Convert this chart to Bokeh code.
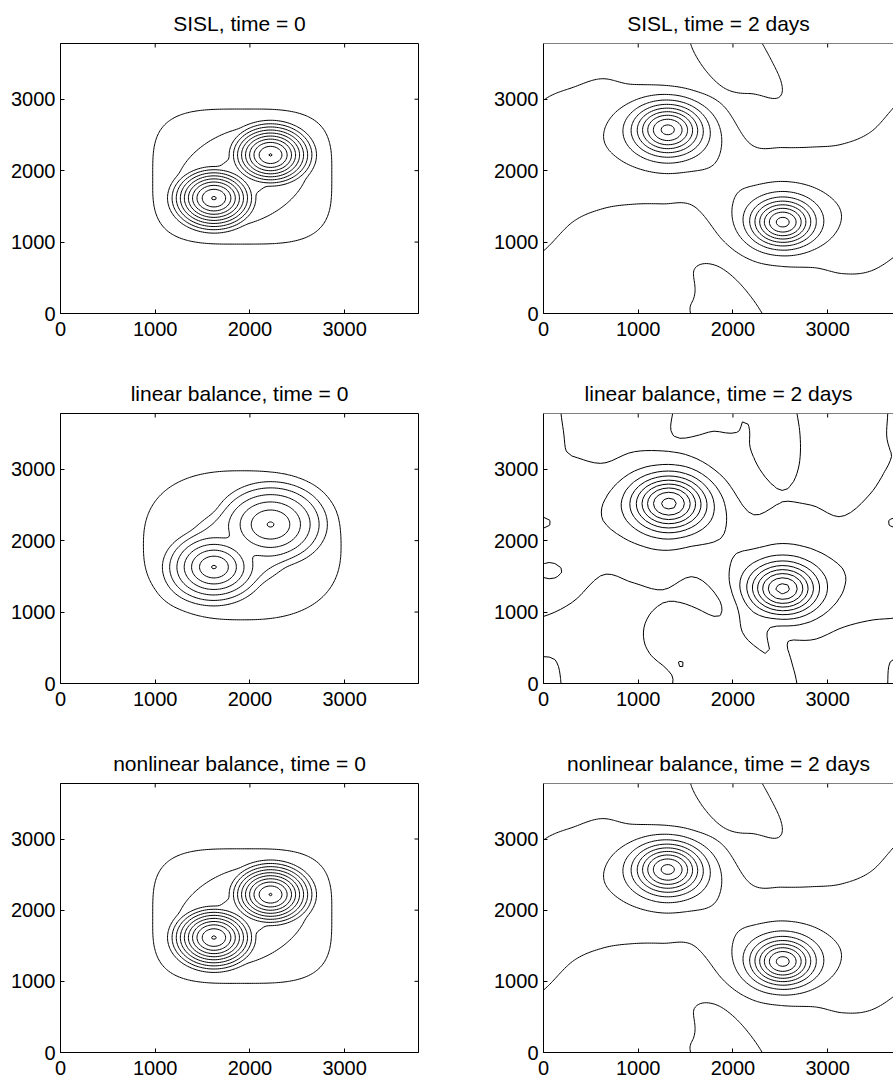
import numpy as np
from bokeh.plotting import figure
from bokeh.layouts import column, row
from bokeh.models import FixedTicker, Range1d, Span
from bokeh.embed import file_html
from bokeh.resources import INLINE

# ------------------------------------------------------------------ data
DOMAIN = 3780.0                      # periodic domain size (km)
TICKS = [0, 1000, 2000, 3000]
TITLES = ["SISL, time = 0", "SISL, time = 2 days",
          "linear balance, time = 0", "linear balance, time = 2 days",
          "nonlinear balance, time = 0", "nonlinear balance, time = 2 days"]

# time = 0 (SISL, nonlinear balance):
# outer box, outer envelope, waist envelope, lower vortex, upper vortex
t0_cx = [1919, 1919, 1919, 1620, 2218]
t0_cy = [1917, 1917, 1917, 1615, 2220]
t0_amp = [1.2, 2.2, 3.2, 10.75, 10.73]
t0_sx = [1128, 1003, 941, 397, 390]
t0_sy = [1128, 752, 359, 397, 390]
t0_shape = [3.5, 2, 2, 2, 2]
t0_power = [3.5, 6, 6, 1.95, 1.95]
t0_angle = [0, 45, 45, 0, 0]
t0_cut = [0, 0, 0, 560, 560]
t0_q = 12
t0_levels = [0.7, 1.7, 2.7, 3.7, 4.7, 5.7, 6.7, 7.7, 8.7, 9.7, 10.7]

# time = 0 (linear balance)
lt0_cx = [1919, 1919, 1620, 2218]
lt0_cy = [1935, 1935, 1630, 2226]
lt0_amp = [1.2, 3.2, 7.75, 6.75]
lt0_sx = [1332, 1008, 470, 570]
lt0_sy = [1332, 578, 470, 570]
lt0_shape = [2.5, 2, 2, 2]
lt0_power = [2.5, 6, 1.7, 1.7]
lt0_angle = [0, 45, 0, 0]
lt0_cut = [0, 0, 650, 700]
lt0_q = 6
lt0_levels = [0.7, 1.7, 2.7, 3.7, 4.7, 5.7, 6.7, 7.7]

# time = 2 days (SISL, nonlinear balance): band edges at 12 equally spaced x nodes
t2_band_lo = [877, 1288, 1469, 1530, 1535, 1512, 1081, 830, 760, 680, 560, 600]
t2_band_hi = [2986, 3167, 3285, 3150, 3030, 2950, 2800, 2350, 2323, 2330, 2370, 2552]
t2_band_top = [0.85, 0.85, 0.85, 0.85, 0.85, 0.85, 0.85, 0.85, 0.85, 0.85, 0.85, 0.85]
# upper vortex, lower vortex, tongue
t2_cx = [1313, 2525, 1890]
t2_cy = [2580, 1273, 3800]
t2_amp = [7.6, 7.6, 1.8]
t2_sx = [350, 320, 1150]
t2_sy = [350, 320, 420]
t2_shape = [2, 2, 2]
t2_power = [2, 2, 6]
t2_angle = [0, 0, 128.5]
t2_cut = [0, 0, 0]
t2_levels = [0, 1, 2, 3, 4, 5, 6, 7, 8]

# time = 2 days (linear balance)
lt2_band_lo = [939, 1147, 1523, 1411, 1312, 1498, 1242, 900, 740, 650, 796, 888]
lt2_band_hi = [3300, 3177, 3072, 3200, 3150, 3050, 2760, 2357, 2524, 2494, 2339, 2680]
lt2_band_top = [0.85, 0.85, 0.85, 0.85, 0.85, 0.85, 0.85, 0.85, 0.85, 0.85, 0.85, 0.85]
lt2_cx = [1324, 2525, 2250, 1625, 1450, 60, 3750, 0]
lt2_cy = [2525, 1322, 3780, 3780, 650, 1590, 2250, 3750]
lt2_amp = [7.6, 7.6, 1.8, 1.6, 1.7, -1.6, -1.6, 0.7]
lt2_sx = [370, 350, 1000, 300, 420, 130, 130, 220]
lt2_sy = [370, 350, 430, 350, 470, 110, 100, 450]
lt2_shape = [2, 2, 2, 4, 2, 2, 2, 4]
lt2_power = [2, 2, 6, 4, 6, 2, 2, 4]
lt2_angle = [0, 0, 105, 0, 0, 0, 0, 0]
lt2_cut = [0, 0, 0, 0, 0, 0, 0, 0]
lt2_levels = [0, 1, 2, 3, 4, 5, 6, 7, 8]


# ------------------------------------------------------------------ fields
def periodic_curve(values, x):
    """periodic Catmull-Rom curve through equally spaced nodes"""
    v = np.asarray(values, float)
    n = len(v)
    t = (np.mod(x, DOMAIN)) / (DOMAIN / n)
    i = np.floor(t).astype(int)
    f = t - i
    p0, p1, p2, p3 = v[(i - 1) % n], v[i % n], v[(i + 1) % n], v[(i + 2) % n]
    return 0.5 * (2 * p1 + (-p0 + p2) * f + (2 * p0 - 5 * p1 + 4 * p2 - p3) * f ** 2
                  + (-p0 + 3 * p1 - 3 * p2 + p3) * f ** 3)


def component_fields(X, Y, cx, cy, amp, sx, sy, shape, power, angle, cut):
    out = []
    for i in range(len(cx)):
        t = np.deg2rad(angle[i])
        c, s = np.cos(t), np.sin(t)
        acc = np.zeros_like(X)
        for ox in (-DOMAIN, 0.0, DOMAIN):
            for oy in (-DOMAIN, 0.0, DOMAIN):
                dx = X - cx[i] - ox
                dy = Y - cy[i] - oy
                u = (dx * c + dy * s) / sx[i]
                v = (-dx * s + dy * c) / sy[i]
                rho = (np.abs(u) ** shape[i] + np.abs(v) ** shape[i]) ** (1.0 / shape[i])
                g = np.exp(-rho ** power[i])
                if cut[i] > 0:
                    g = g * np.exp(-(np.hypot(dx, dy) / cut[i]) ** 8)
                acc += g
        out.append(amp[i] * acc)
    return out


def band_field(X, Y, lo, hi, top):
    k = 2 * np.pi / DOMAIN
    lo_x = periodic_curve(lo, X)
    hi_x = periodic_curve(hi, X)
    h = periodic_curve(top, X)
    yc = 0.5 * (lo_x + hi_x)
    w = 0.5 * (hi_x - lo_x)
    cw = np.cos(k * w)
    return h * (np.cos(k * (Y - yc)) - cw) / (1 - cw)


xs_f = np.linspace(0, DOMAIN, 190)
X, Y = np.meshgrid(xs_f, xs_f)

c0 = component_fields(X, Y, t0_cx, t0_cy, t0_amp, t0_sx, t0_sy, t0_shape, t0_power, t0_angle, t0_cut)
z_t0 = sum(c ** t0_q for c in c0) ** (1.0 / t0_q)

cl0 = component_fields(X, Y, lt0_cx, lt0_cy, lt0_amp, lt0_sx, lt0_sy, lt0_shape, lt0_power,
                       lt0_angle, lt0_cut)
z_lt0 = sum(c ** lt0_q for c in cl0) ** (1.0 / lt0_q)

z_t2 = band_field(X, Y, t2_band_lo, t2_band_hi, t2_band_top) + sum(
    component_fields(X, Y, t2_cx, t2_cy, t2_amp, t2_sx, t2_sy, t2_shape, t2_power, t2_angle, t2_cut))

xs_c = np.linspace(0, DOMAIN, 64)
Xc, Yc = np.meshgrid(xs_c, xs_c)
z_lt2 = band_field(Xc, Yc, lt2_band_lo, lt2_band_hi, lt2_band_top) + sum(
    component_fields(Xc, Yc, lt2_cx, lt2_cy, lt2_amp, lt2_sx, lt2_sy, lt2_shape, lt2_power,
                     lt2_angle, lt2_cut))

# ------------------------------------------------------------------ figures
FONT = "Liberation Sans"


def make_panel(title, xs, z, levels, left_col, bottom_row):
    x_end = DOMAIN if left_col else 3695
    p = figure(width=484 if left_col else 409, height=342 if bottom_row else 370,
               x_range=Range1d(0, x_end), y_range=Range1d(0, DOMAIN),
               output_backend="svg", toolbar_location=None, tools="",
               min_border_left=60 if left_col else 59,
               min_border_right=66 if left_col else 0,
               min_border_top=42, min_border_bottom=30 if bottom_row else 57,
               title=title)
    p.title.text_font = FONT
    p.title.text_font_size = "21px"
    p.title.text_font_style = "normal"
    p.title.align = "center"
    p.title.standoff = 18
    p.title.text_color = "black"
    p.xgrid.visible = False
    p.ygrid.visible = False
    p.background_fill_color = "white"
    p.border_fill_color = "white"
    for ax in (p.xaxis[0], p.yaxis[0]):
        ax.ticker = FixedTicker(ticks=TICKS)
        ax.major_tick_in = 4
        ax.major_tick_out = 0
        ax.minor_tick_line_color = None
        ax.axis_line_color = "black"
        ax.major_tick_line_color = "black"
        ax.major_label_text_font = FONT
        ax.major_label_text_font_size = "20px"
        ax.major_label_text_color = "black"
    p.xaxis[0].major_label_standoff = 8
    p.yaxis[0].major_label_standoff = 5
    # box: full frame on the left column, top edge only on the (cropped) right column
    if left_col:
        p.outline_line_color = "black"
        p.outline_line_width = 1
        p.ray(x=[DOMAIN] * len(TICKS), y=TICKS, length=4, length_units="screen",
              angle=180, angle_units="deg", line_color="black", line_width=1)
    else:
        p.outline_line_color = None
        p.add_layout(Span(location=DOMAIN, dimension="width", line_color="black", line_width=1))
    p.ray(x=TICKS, y=[DOMAIN] * len(TICKS), length=4, length_units="screen",
          angle=-90, angle_units="deg", line_color="black", line_width=1)
    p.contour(x=xs, y=xs, z=z, levels=levels, line_color="black", line_width=1)
    return p


p1 = make_panel(TITLES[0], xs_f, z_t0, t0_levels, True, False)
p2 = make_panel(TITLES[1], xs_f, z_t2, t2_levels, False, False)
p3 = make_panel(TITLES[2], xs_f, z_lt0, lt0_levels, True, False)
p4 = make_panel(TITLES[3], xs_c, z_lt2, lt2_levels, False, False)
p5 = make_panel(TITLES[4], xs_f, z_t0, t0_levels, True, True)
p6 = make_panel(TITLES[5], xs_f, z_t2, t2_levels, False, True)

layout = column(row(p1, p2), row(p3, p4), row(p5, p6))
open("out.html", "w").write(file_html(layout, INLINE))
